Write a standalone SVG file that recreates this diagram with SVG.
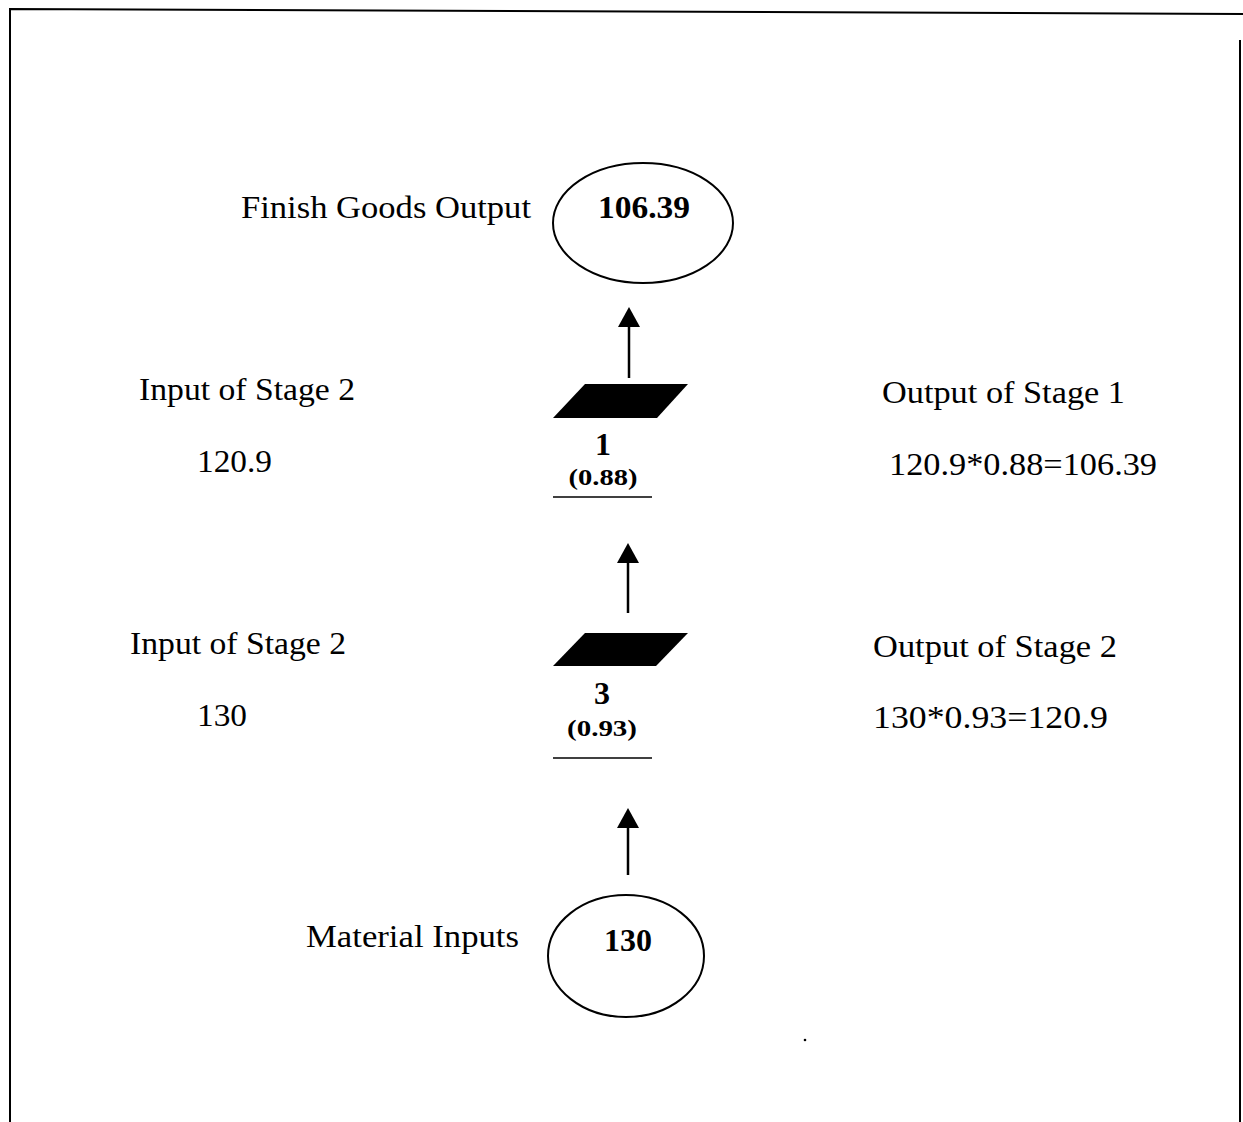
<svg xmlns="http://www.w3.org/2000/svg" width="1243" height="1122" viewBox="0 0 1243 1122">
<defs>
<style>
.t{font-family:"Liberation Serif","Times New Roman",serif;font-size:31px;fill:#000}
.b{font-family:"Liberation Serif","Times New Roman",serif;font-weight:bold;fill:#000}
.ell{fill:none;stroke:#000;stroke-width:2}
.shaft{stroke:#000;stroke-width:2.5;fill:none}
.ul{stroke:#000;stroke-width:1.6}
.border{stroke:#000;stroke-width:2;fill:none}
</style>
<marker id="ah" markerUnits="userSpaceOnUse" markerWidth="21" markerHeight="23" refX="0" refY="0" viewBox="0 -11.5 21 23" orient="auto" overflow="visible">
<path d="M0,-11 L20,0 L0,11 Z" fill="#000"/>
</marker>
</defs>
<rect width="1243" height="1122" fill="#fff"/>
<g id="border">
<path class="border" d="M10,1122 L10,9 L1243,14"/>
<path class="border" d="M1240,40 L1240,1122"/>
</g>
<g id="connectors">
<line class="shaft" x1="629" y1="378" x2="629" y2="327" marker-end="url(#ah)"/>
<line class="shaft" x1="628" y1="613" x2="628" y2="563" marker-end="url(#ah)"/>
<line class="shaft" x1="628" y1="875" x2="628" y2="828" marker-end="url(#ah)"/>
</g>
<g id="finish">
<ellipse class="ell" cx="643" cy="223" rx="90" ry="60"/>
<text class="b" x="644" y="218" font-size="32" text-anchor="middle" textLength="92" lengthAdjust="spacingAndGlyphs">106.39</text>
<text class="t" x="241" y="218" textLength="290" lengthAdjust="spacingAndGlyphs">Finish Goods Output</text>
</g>
<g id="stage1">
<polygon points="585,384 688,384 657,418 553,418" fill="#000"/>
<text class="b" x="603" y="455" font-size="32" text-anchor="middle">1</text>
<text class="b" x="603" y="485" font-size="24" text-anchor="middle" textLength="69" lengthAdjust="spacingAndGlyphs">(0.88)</text>
<line class="ul" x1="553" y1="497" x2="652" y2="497"/>
</g>
<g id="stage1-labels">
<text class="t" x="139" y="400" textLength="216" lengthAdjust="spacingAndGlyphs">Input of Stage 2</text>
<text class="t" x="197" y="472" textLength="75" lengthAdjust="spacingAndGlyphs">120.9</text>
<text class="t" x="882" y="403" textLength="243" lengthAdjust="spacingAndGlyphs">Output of Stage 1</text>
<text class="t" x="889" y="475" textLength="268" lengthAdjust="spacingAndGlyphs">120.9*0.88=106.39</text>
</g>
<g id="stage3">
<polygon points="585,633 688,633 656,666 553,666" fill="#000"/>
<text class="b" x="602" y="704" font-size="32" text-anchor="middle">3</text>
<text class="b" x="602" y="736" font-size="24" text-anchor="middle" textLength="70" lengthAdjust="spacingAndGlyphs">(0.93)</text>
<line class="ul" x1="553" y1="758" x2="652" y2="758"/>
</g>
<g id="stage3-labels">
<text class="t" x="130" y="654" textLength="216" lengthAdjust="spacingAndGlyphs">Input of Stage 2</text>
<text class="t" x="197" y="726" textLength="50" lengthAdjust="spacingAndGlyphs">130</text>
<text class="t" x="873" y="657" textLength="244" lengthAdjust="spacingAndGlyphs">Output of Stage 2</text>
<text class="t" x="873" y="728" textLength="235" lengthAdjust="spacingAndGlyphs">130*0.93=120.9</text>
</g>
<g id="material">
<ellipse class="ell" cx="626" cy="956" rx="78" ry="61"/>
<text class="b" x="628" y="951" font-size="32" text-anchor="middle" textLength="48" lengthAdjust="spacingAndGlyphs">130</text>
<text class="t" x="306" y="947" textLength="213" lengthAdjust="spacingAndGlyphs">Material Inputs</text>
</g>
<circle cx="805" cy="1040" r="1.3" fill="#000"/>
</svg>
